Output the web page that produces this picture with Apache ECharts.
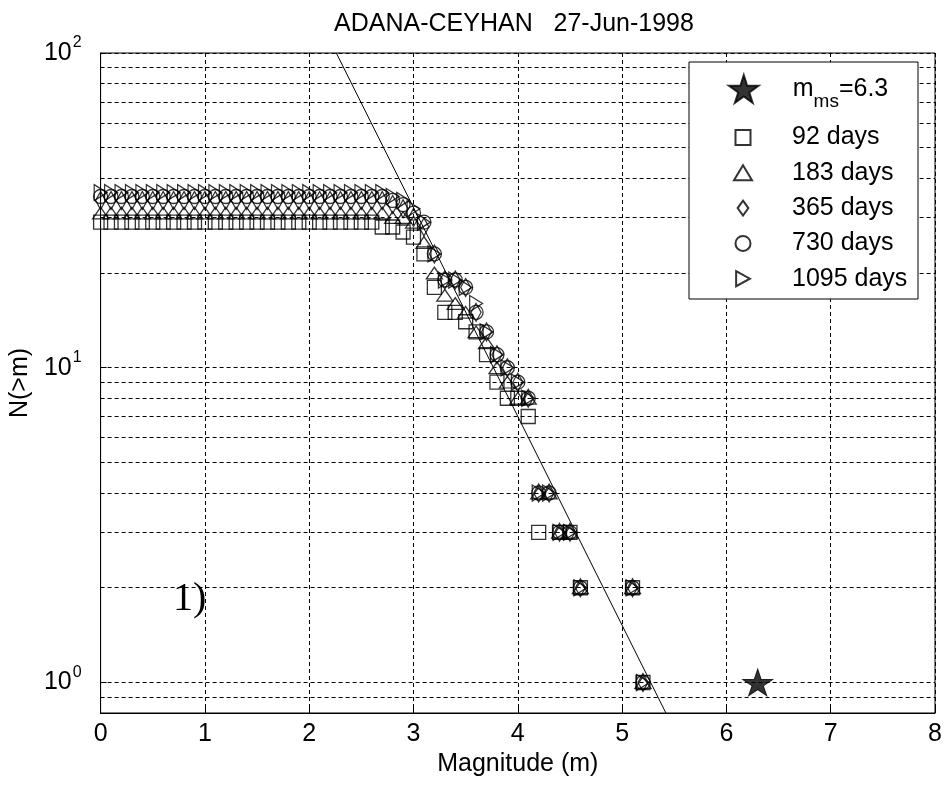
<!DOCTYPE html>
<html><head><meta charset="utf-8">
<script src="https://cdn.jsdelivr.net/npm/echarts@6/dist/echarts.min.js"></script>
<style>html,body{margin:0;padding:0;background:#fff}#c{width:949px;height:785px}</style>
</head><body><div id="c"></div>
<script>
// ---------- data ----------
const titleText = 'ADANA-CEYHAN   27-Jun-1998';
const panelLabel = '1)';
const xName = 'Magnitude (m)';
const yName = 'N(>m)';
const xTicks = [0, 1, 2, 3, 4, 5, 6, 7, 8];
const yMinorGrid = [0.9, 2, 3, 4, 5, 6, 7, 8, 9, 20, 30, 40, 50, 60, 70, 80, 90];
const seriesNames = ['92 days', '183 days', '365 days', '730 days', '1095 days'];
const mainShockName = 'm_ms=6.3';
const mainShock = [6.3, 1];
const magnitudes = [0.0, 0.1, 0.2, 0.3, 0.4, 0.5, 0.6, 0.7, 0.8, 0.9, 1.0, 1.1, 1.2, 1.3, 1.4, 1.5, 1.6, 1.7, 1.8, 1.9, 2.0, 2.1, 2.2, 2.3, 2.4, 2.5, 2.6,
  2.7, 2.8, 2.9, 3.0, 3.1, 3.2, 3.3, 3.4, 3.5, 3.6, 3.7, 3.8, 3.9, 4.0, 4.1, 4.2, 4.3, 4.4, 4.5, 4.6, 5.1, 5.2];
const n92 = [29, 29, 29, 29, 29, 29, 29, 29, 29, 29, 29, 29, 29, 29, 29, 29, 29, 29, 29, 29, 29, 29, 29, 29, 29, 29, 29,
  28, 28, 27, 26, 23, 18, 15, 15, 14, 13, 11, 9, 8, 8, 7, 3, null, 3, 3, 2, 2, 1];
const n183 = [31, 31, 31, 31, 31, 31, 31, 31, 31, 31, 31, 31, 31, 31, 31, 31, 31, 31, 31, 31, 31, 31, 31, 31, 31, 31, 31,
  31, 30, 30, 29, 25, 20, 17, 16, 15, 13, 12, 10, 9, 8, 8, 4, 4, 3, 3, 2, 2, 1];
const n365 = [34, 34, 34, 34, 34, 34, 34, 34, 34, 34, 34, 34, 34, 34, 34, 34, 34, 34, 34, 34, 34, 34, 34, 34, 34, 34, 34,
  34, 33, 32, 30, 28, 23, 19, 19, 18, 15, 13, 11, 10, 9, 8, 4, 4, 3, 3, 2, 2, 1];
const n730 = [35, 35, 35, 35, 35, 35, 35, 35, 35, 35, 35, 35, 35, 35, 35, 35, 35, 35, 35, 35, 35, 35, 35, 35, 35, 35, 35,
  35, 34, 33, 31, 29, 23, 19, 19, 18, 15, 13, 11, 10, 9, 8, 4, 4, 3, 3, 2, 2, 1];
const n1095 = [36, 36, 36, 36, 36, 36, 36, 36, 36, 36, 36, 36, 36, 36, 36, 36, 36, 36, 36, 36, 36, 36, 36, 36, 36, 36, 36,
  36, 35, 34, 32, 29, 23, 19, 19, 18, 16, 13, 11, 10, 9, 8, 4, 4, 3, 3, 2, 2, 1];
// Gutenberg-Richter fit line end points (m, N)
const fitLine = [[2.26, 100], [5.42, 0.8]];

// ---------- style ----------
const FONT = '"Liberation Sans", Arial, sans-serif';
const FS = 25;
const dash = [4, 3];
const SYM = {
  square: 'path://M0,0 L10,0 L10,10 L0,10 Z',
  triangle: 'path://M6,0 L12,10 L0,10 Z',
  diamond: 'path://M5,0 L10,7 L5,14 L0,7 Z',
  circle: 'circle',
  rtriangle: 'path://M0,0 L11,6 L0,12 Z',
  star: 'path://M50,0 L61,35 L98,35 L68,57 L79,91 L50,70 L21,91 L32,57 L2,35 L39,35 Z'
};
const symbols = [SYM.square, SYM.triangle, SYM.diamond, SYM.circle, SYM.rtriangle];
const symSizes = [[14, 14], [16, 14], [14, 18], [14, 14], [14, 16]];
const allN = [n92, n183, n365, n730, n1095];

function pairs(m, n) {
  const out = [];
  for (let i = 0; i < m.length; i++) if (n[i] != null) out.push([m[i], n[i]]);
  return out;
}

const chart = echarts.init(document.getElementById('c'));
const series = [];
series.push({
  type: 'line', name: '_grid', data: [], silent: true, z: 1,
  markLine: {
    silent: true, symbol: ['none', 'none'], label: {show: false},
    lineStyle: {color: '#000', width: 1, type: dash},
    emphasis: {disabled: true},
    data: yMinorGrid.map(v => ({yAxis: v}))
  }
});
series.push({
  type: 'line', name: '_fit', data: fitLine, symbol: 'none', silent: true, z: 2,
  lineStyle: {color: '#000', width: 1}, clip: true
});
seriesNames.forEach((nm, k) => {
  series.push({
    type: 'scatter', name: nm, data: pairs(magnitudes, allN[k]),
    symbol: symbols[k], symbolSize: symSizes[k], symbolKeepAspect: true, z: 3,
    itemStyle: {color: 'rgba(255,255,255,0)', borderColor: '#000', borderWidth: 1.3},
    emphasis: {disabled: true}
  });
});
series.push({
  type: 'scatter', name: mainShockName, data: [mainShock], symbol: SYM.star,
  symbolSize: [30, 28], symbolKeepAspect: true, z: 4,
  itemStyle: {color: '#000', borderColor: '#000', borderWidth: 1},
  emphasis: {disabled: true}
});

const option = {
  animation: false,
  backgroundColor: '#fff',
  textStyle: {fontFamily: FONT, color: '#000'},
  title: [
    {text: titleText, left: 509, top: 7, textAlign: 'center',
      textStyle: {fontFamily: FONT, fontSize: FS, fontWeight: 'normal', color: '#000'}},
    {text: panelLabel, left: 168, top: 574,
      textStyle: {fontFamily: '"Liberation Serif", "Times New Roman", serif', fontSize: 40, fontWeight: 'normal', color: '#000'}}
  ],
  grid: {left: 100, right: 14, top: 53, bottom: 72, show: true, borderColor: '#000', borderWidth: 1, backgroundColor: 'rgba(0,0,0,0)'},
  xAxis: {
    type: 'value', min: xTicks[0], max: xTicks[xTicks.length - 1], interval: 1,
    name: xName, nameLocation: 'middle', nameGap: 38,
    nameTextStyle: {fontFamily: FONT, fontSize: FS, color: '#000'},
    axisLine: {lineStyle: {color: '#000', width: 1}},
    axisTick: {inside: true, length: 6, lineStyle: {color: '#000'}},
    axisLabel: {margin: 9, fontFamily: FONT, fontSize: FS, color: '#000'},
    splitLine: {show: true, lineStyle: {color: '#000', width: 1, type: dash}}
  },
  yAxis: {
    type: 'log', logBase: 10, min: 0.8, max: 100,
    name: yName, nameLocation: 'middle', nameGap: 67,
    nameTextStyle: {fontFamily: FONT, fontSize: FS, color: '#000'},
    axisLine: {show: true, lineStyle: {color: '#000', width: 1}},
    axisTick: {inside: true, length: 6, lineStyle: {color: '#000'}},
    axisLabel: {
      margin: 19, fontFamily: FONT, color: '#000',
      formatter: function (v) {
        const lg = Math.log10(v);
        const e = Math.round(lg);
        if (Math.abs(lg - e) > 1e-6) return '';
        return '{b|10}{p|' + e + '}';
      },
      rich: {
        b: {fontFamily: FONT, fontSize: FS, lineHeight: 26, color: '#000'},
        p: {fontFamily: FONT, fontSize: 16, verticalAlign: 'top', padding: [0, 0, 20, 1], color: '#000'}
      }
    },
    splitLine: {show: true, lineStyle: {color: '#000', width: 1, type: dash}}
  },
  graphic: [{
    type: 'rect', z: 50, silent: true,
    shape: {x: 689, y: 62, width: 229, height: 237},
    style: {fill: '#fff', stroke: '#000', lineWidth: 1}
  }],
  legend: [
    {
      data: [mainShockName], orient: 'vertical', left: 723, top: 69, z: 60,
      itemWidth: 88, itemHeight: 28, symbolKeepAspect: true, selectedMode: false,
      formatter: function () { return '{t|m}{s|ms}{t|=6.3}'; },
      textStyle: {
        fontFamily: FONT, fontSize: FS, color: '#000',
        rich: {
          t: {fontFamily: FONT, fontSize: FS, lineHeight: 24, color: '#000'},
          s: {fontFamily: FONT, fontSize: 19, verticalAlign: 'bottom', padding: [26, 0, 0, 0], color: '#000'}
        }
      }
    },
    {
      data: seriesNames, orient: 'vertical', left: 728, top: 120, z: 60,
      itemWidth: 88, itemHeight: 15, itemGap: 10.3, symbolKeepAspect: true, selectedMode: false,
      textStyle: {fontFamily: FONT, fontSize: FS, lineHeight: 24, color: '#000'}
    }
  ],
  series: series
};
chart.setOption(option);
</script>
</body></html>
